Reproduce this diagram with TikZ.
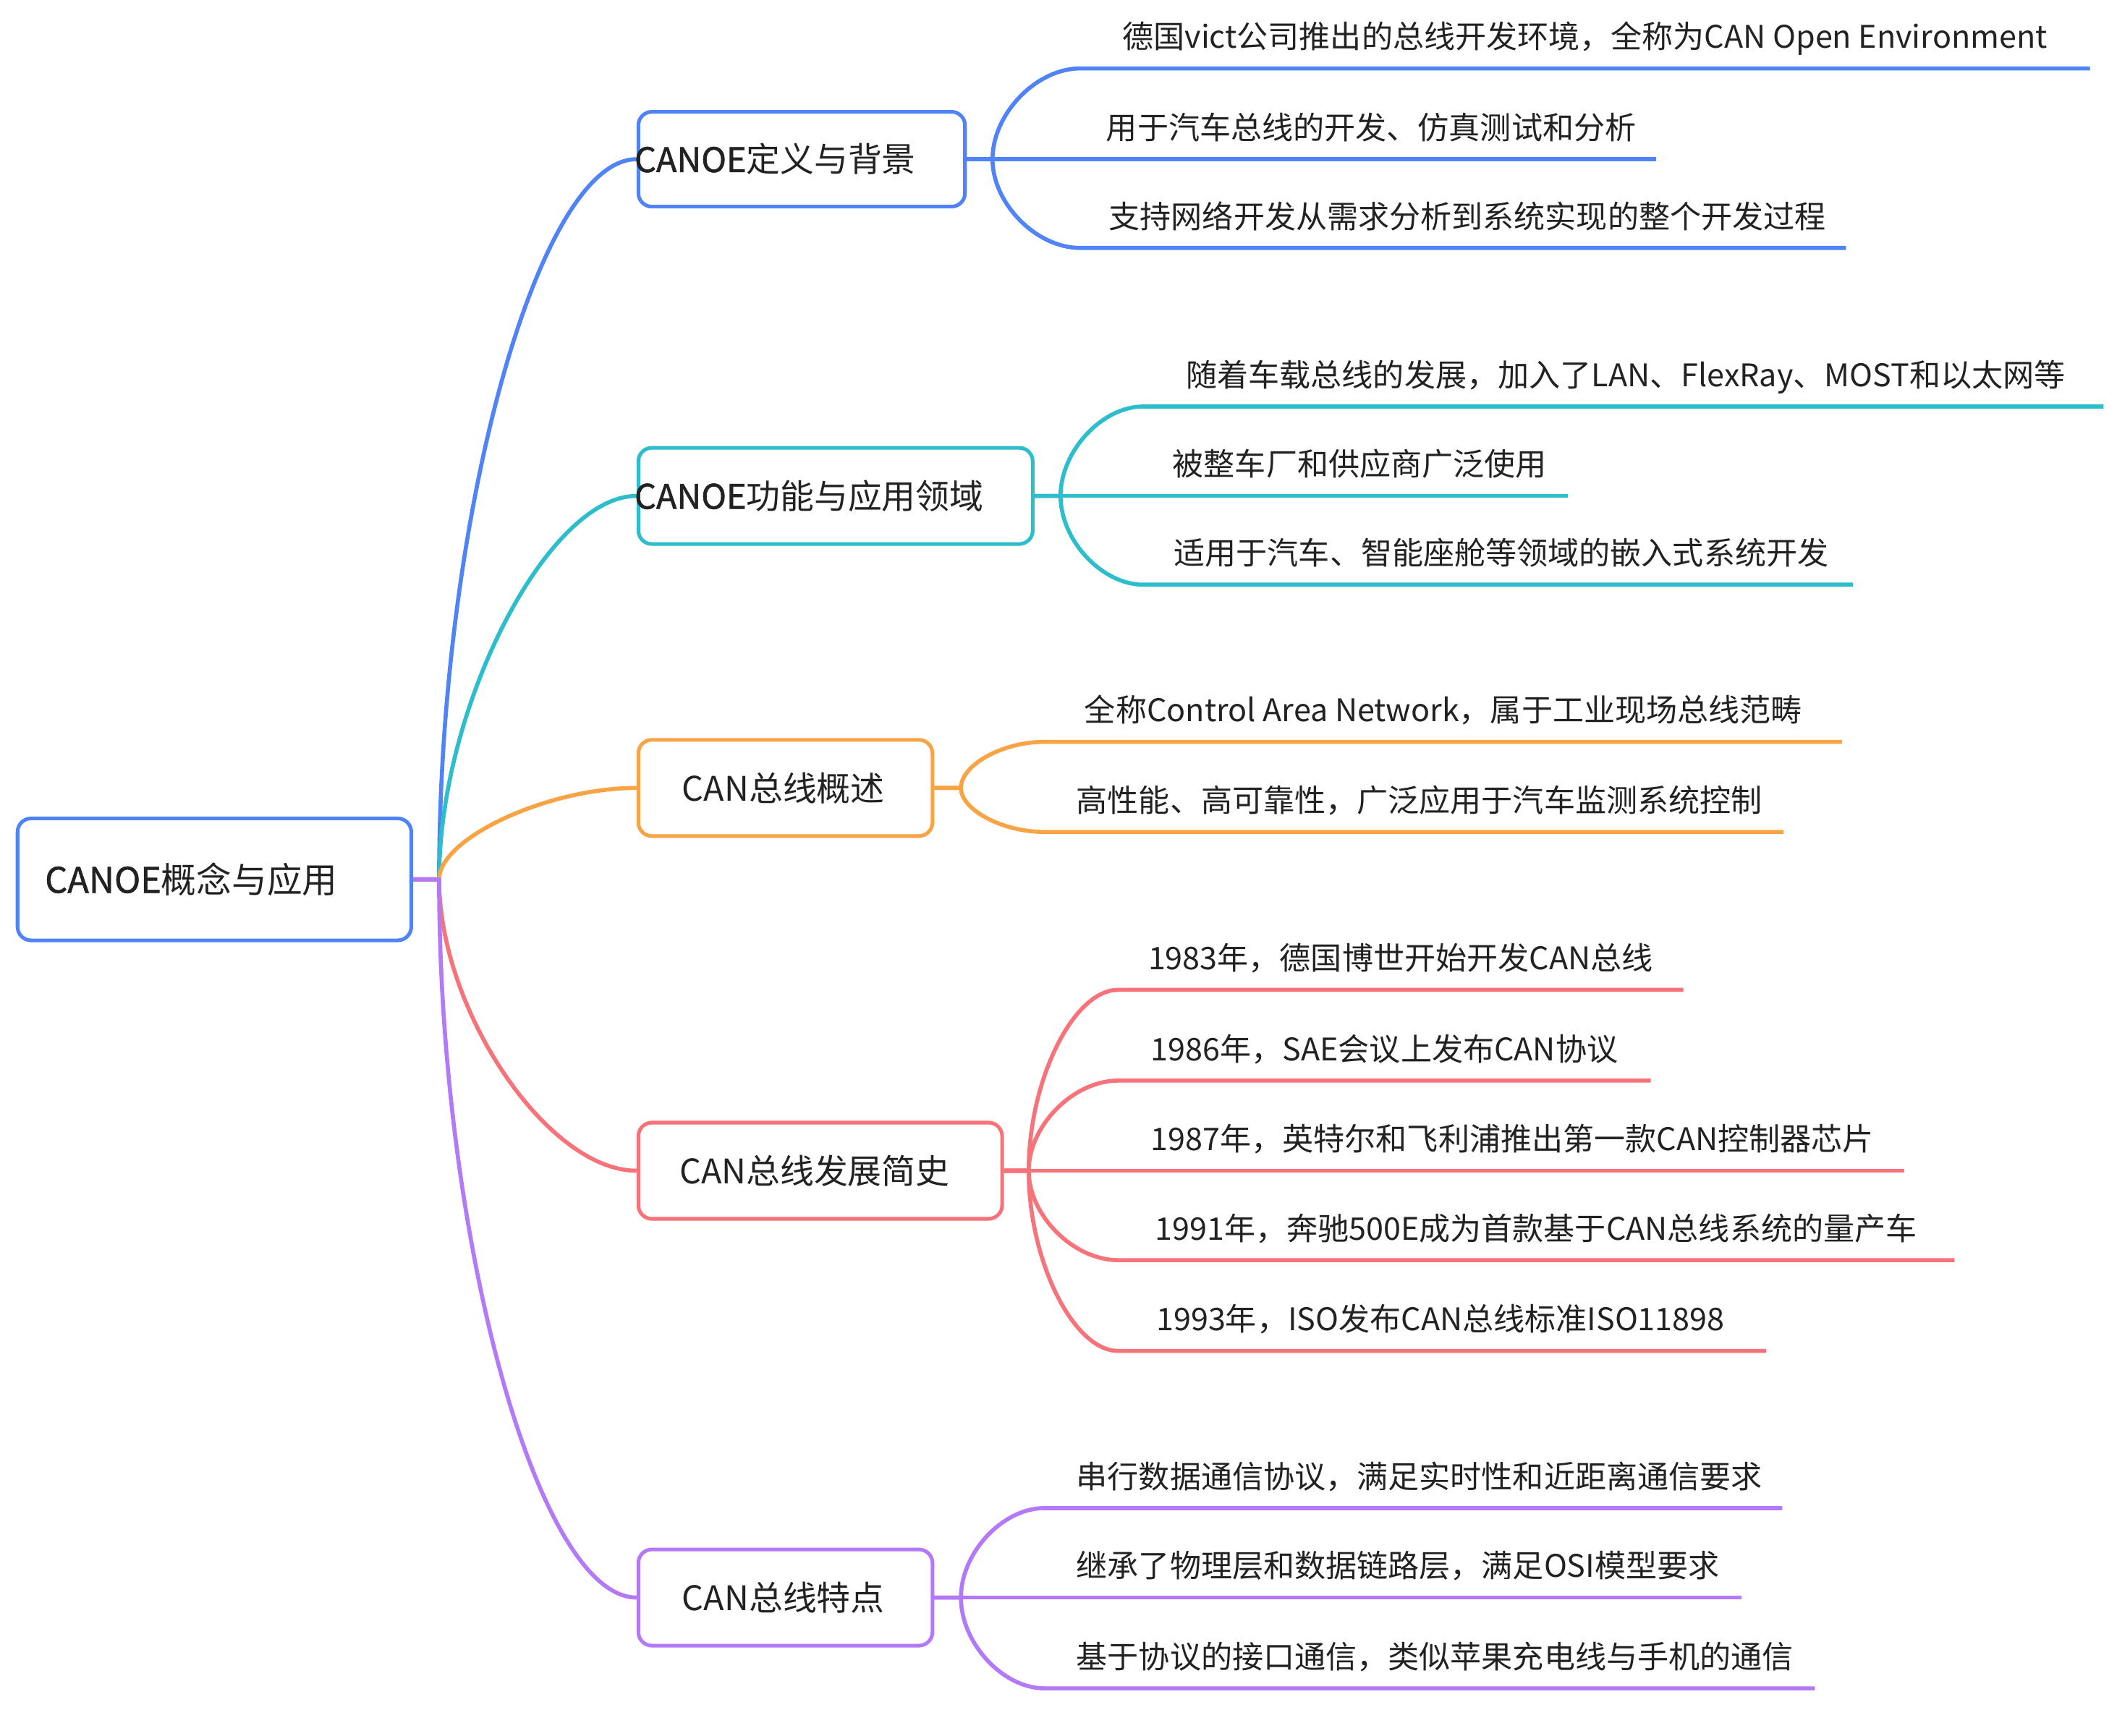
\documentclass[tikz,border=0pt]{standalone}
\usepackage{fontspec}
\setmainfont{Noto Sans CJK SC}
\newfontfamily\boldlatin[FakeBold=1.2]{Noto Sans CJK SC}
\usetikzlibrary{calc,backgrounds}
\definecolor{cblue}{HTML}{4F83F7}
\definecolor{cteal}{HTML}{2CBECC}
\definecolor{corange}{HTML}{F9A444}
\definecolor{cred}{HTML}{F87379}
\definecolor{cpurple}{HTML}{B479F9}
\definecolor{textc}{HTML}{222222}
\newcommand\leafnode[9]{%
  \coordinate (#1s) at (#5,#6);
  \coordinate (#1e) at (#8,#6);
  \node[lftext] (#1) at (#7,#6-14.8) {#9};
  \begin{scope}[on background layer]
    \draw[conn=#2] (#3.east) -- (#4) .. controls ($(#4)!0.5!(#4|-#1s)$) and ($(#1s)!0.5!(#1s-|#4)$) .. (#1s) -- (#1e);
  \end{scope}}
\newcommand\branchconn[3]{%
  \draw[conn=#1] (root.east) -- (j0) .. controls ($(j0)!#3!(j0|-#2.west)$) and ($(#2.west)!#3!(#2.west-|j0)$) .. (#2.west);}
\begin{document}
\begin{tikzpicture}[x=1pt,y=-1pt,
  conn/.style={draw=#1, line width=3pt, line join=round},
  bbox/.style={draw=#1, line width=2.7pt, rounded corners=10pt, fill=white, inner sep=0pt},
  roottext/.style={font=\fontsize{26}{30}\selectfont, text=textc, inner sep=0pt, anchor=base west},
  brtext/.style={font=\fontsize{25}{30}\selectfont, text=textc, inner sep=0pt},
  lftext/.style={font=\fontsize{23}{28}\selectfont, text=textc, inner sep=0pt, anchor=base west}]
\useasboundingbox (0,0) rectangle (1562,1281);
\begin{scope}[on background layer]
  \fill[white] (0,0) rectangle (1562,1281);
\end{scope}
% root
\node[bbox=cblue, minimum width=290.5pt, minimum height=90pt] (root) at (158.2,649) {};
\node[roottext] (roott) at (33,658.9) {{\boldlatin CANOE}概念与应用};
\coordinate (j0) at (324,649);
% branches
\node[bbox=cblue, minimum width=241pt, minimum height=70pt] (b1) at (591.5,117.5) {};
\node[brtext, anchor=base west] (b1t) at (468,127) {{\boldlatin CANOE}定义与背景};
\node[bbox=cteal, minimum width=291pt, minimum height=71pt] (b2) at (616.5,366) {};
\node[brtext, anchor=base west] (b2t) at (468,375.5) {{\boldlatin CANOE}功能与应用领域};
\node[bbox=corange, minimum width=217pt, minimum height=71pt] (b3) at (579.5,581.5) {};
\node[brtext, anchor=base] (b3t) at (578,591) {CAN总线概述};
\node[bbox=cred, minimum width=268.4pt, minimum height=71pt] (b4) at (605.2,864) {};
\node[brtext, anchor=base] (b4t) at (601,873.5) {CAN总线发展简史};
\node[bbox=cpurple, minimum width=217pt, minimum height=71pt] (b5) at (579.5,1179) {};
\node[brtext, anchor=base] (b5t) at (578,1188.5) {CAN总线特点};
% root connectors
\begin{scope}[on background layer]
  \branchconn{cblue}{b1}{0.5}
  \branchconn{cteal}{b2}{0.45}
  \branchconn{corange}{b3}{0.45}
  \branchconn{cred}{b4}{0.45}
  \branchconn{cpurple}{b5}{0.5}
\end{scope}
% junctions
\coordinate (j1) at (732.3,117.5);
\coordinate (j2) at (782.5,366);
\coordinate (j3) at (709,581.5);
\coordinate (j4) at (759,864);
\coordinate (j5) at (709,1179);
% leaves: name, colour, box, junction, start x, y, text x, end x, text
\leafnode{la}{cblue}{b1}{j1}{797}{50.5}{828}{1542}{德国vict公司推出的总线开发环境，全称为CAN Open Environment}
\leafnode{lb}{cblue}{b1}{j1}{732.3}{117.5}{816}{1222}{用于汽车总线的开发、仿真测试和分析}
\leafnode{lc}{cblue}{b1}{j1}{797}{183}{818}{1362}{支持网络开发从需求分析到系统实现的整个开发过程}
\leafnode{ta}{cteal}{b2}{j2}{843.5}{300}{875}{1552}{随着车载总线的发展，加入了LAN、FlexRay、MOST和以太网等}
\leafnode{tb}{cteal}{b2}{j2}{782.5}{366}{865}{1157}{被整车厂和供应商广泛使用}
\leafnode{tc}{cteal}{b2}{j2}{843.5}{431.5}{866}{1367}{适用于汽车、智能座舱等领域的嵌入式系统开发}
\leafnode{oa}{corange}{b3}{j3}{770.5}{547.5}{800}{1359}{全称Control Area Network，属于工业现场总线范畴}
\leafnode{ob}{corange}{b3}{j3}{770.5}{614}{794}{1316}{高性能、高可靠性，广泛应用于汽车监测系统控制}
\leafnode{ra}{cred}{b4}{j4}{825}{730.5}{847}{1242}{1983年，德国博世开始开发CAN总线}
\leafnode{rb}{cred}{b4}{j4}{825}{797.5}{849}{1218}{1986年，SAE会议上发布CAN协议}
\leafnode{rc}{cred}{b4}{j4}{759}{864}{849}{1405}{1987年，英特尔和飞利浦推出第一款CAN控制器芯片}
\leafnode{rd}{cred}{b4}{j4}{825}{930}{852}{1442}{1991年，奔驰500E成为首款基于CAN总线系统的量产车}
\leafnode{re}{cred}{b4}{j4}{825}{997}{853}{1303}{1993年，ISO发布CAN总线标准ISO11898}
\leafnode{pa}{cpurple}{b5}{j5}{770.5}{1113}{794}{1315}{串行数据通信协议，满足实时性和近距离通信要求}
\leafnode{pb}{cpurple}{b5}{j5}{709}{1179}{794}{1285}{继承了物理层和数据链路层，满足OSI模型要求}
\leafnode{pc}{cpurple}{b5}{j5}{770.5}{1246}{794}{1339}{基于协议的接口通信，类似苹果充电线与手机的通信}
\end{tikzpicture}
\end{document}
